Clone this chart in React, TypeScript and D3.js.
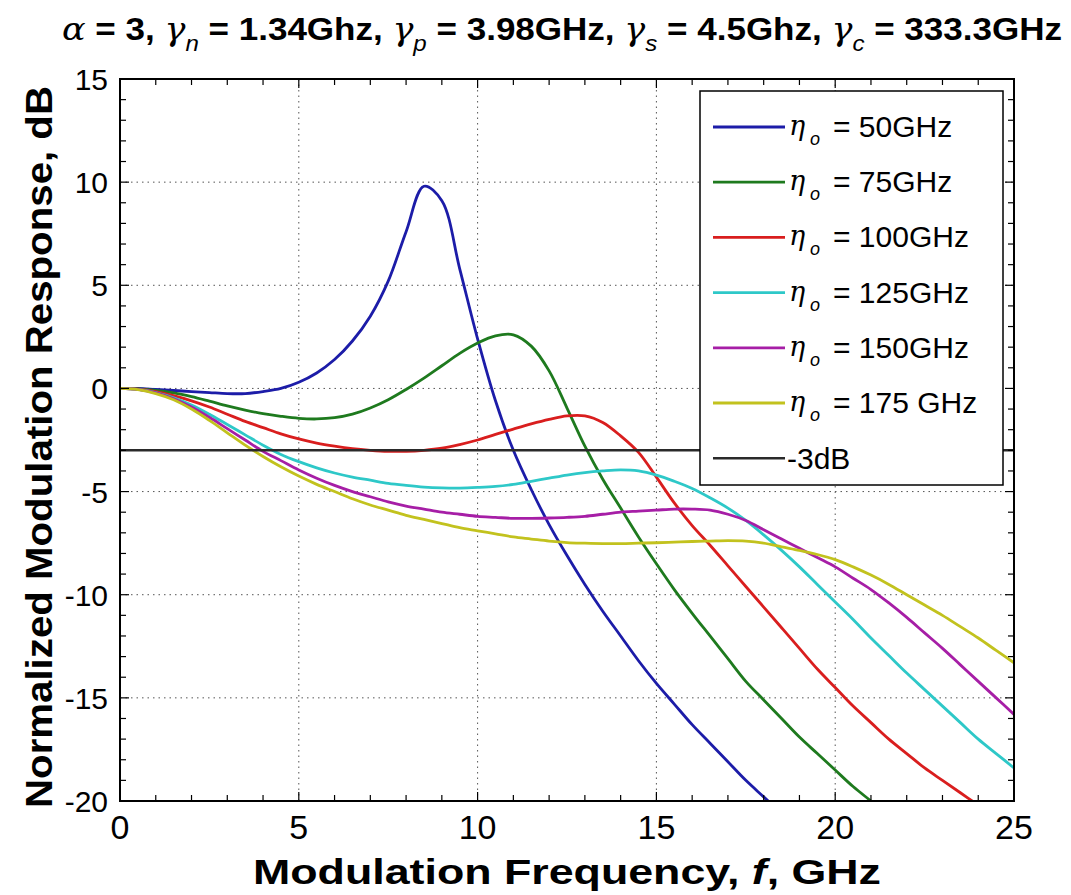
import React from "react";
import * as d3 from "d3";

const freq = [0,0.5,1,1.5,2,2.5,3,3.5,4,4.5,5,5.5,6,6.5,7,7.5,8,8.5,9,9.5,10,10.5,11,11.5,12,12.5,13,13.5,14,14.5,15,15.5,16,16.5,17,17.5,18,18.5,19,19.5,20,20.5,21,21.5,22,22.5,23,23.5,24,24.5,25];

const eta50 = [0,0,-0.05,-0.1,-0.15,-0.2,-0.25,-0.25,-0.15,0,0.3,0.75,1.4,2.3,3.5,5.2,7.6,9.8,9.1,5.8,2.4,-0.6,-3.0,-4.9,-6.6,-8.1,-9.5,-10.8,-12.0,-13.2,-14.3,-15.3,-16.3,-17.2,-18.1,-19.0,-19.8,-20.6,null,null,null,null,null,null,null,null,null,null,null,null,null];
const eta75 = [0,-0.02,-0.1,-0.22,-0.4,-0.62,-0.85,-1.05,-1.22,-1.35,-1.45,-1.48,-1.42,-1.25,-0.95,-0.55,-0.05,0.5,1.1,1.7,2.2,2.55,2.6,2.05,0.85,-0.95,-2.8,-4.4,-5.8,-7.2,-8.5,-9.75,-10.9,-12.0,-13.1,-14.2,-15.1,-16.0,-16.9,-17.7,-18.5,-19.3,-20.0,-20.7,null,null,null,null,null,null,null];
const eta100 = [0,-0.04,-0.15,-0.35,-0.6,-0.9,-1.25,-1.6,-1.9,-2.2,-2.45,-2.65,-2.8,-2.92,-3.0,-3.05,-3.05,-3.0,-2.9,-2.72,-2.5,-2.23,-1.97,-1.72,-1.5,-1.33,-1.33,-1.65,-2.3,-3.1,-4.3,-5.55,-6.65,-7.6,-8.6,-9.6,-10.6,-11.6,-12.6,-13.6,-14.5,-15.4,-16.2,-17.0,-17.7,-18.4,-19.0,-19.6,-20.2,null,null];
const eta125 = [0,-0.05,-0.2,-0.45,-0.8,-1.25,-1.75,-2.25,-2.75,-3.2,-3.55,-3.85,-4.1,-4.3,-4.45,-4.6,-4.7,-4.78,-4.82,-4.83,-4.8,-4.75,-4.65,-4.5,-4.35,-4.2,-4.08,-4.0,-3.95,-4.0,-4.2,-4.5,-4.85,-5.3,-5.8,-6.4,-7.1,-7.85,-8.65,-9.5,-10.35,-11.2,-12.1,-12.95,-13.8,-14.6,-15.4,-16.2,-17.0,-17.7,-18.4];
const eta150 = [0,-0.05,-0.22,-0.5,-0.9,-1.4,-1.95,-2.5,-3.05,-3.5,-3.95,-4.35,-4.7,-5.0,-5.25,-5.5,-5.7,-5.85,-6.0,-6.1,-6.2,-6.25,-6.3,-6.3,-6.28,-6.25,-6.2,-6.1,-6.0,-5.95,-5.9,-5.85,-5.85,-5.9,-6.1,-6.4,-6.85,-7.3,-7.75,-8.2,-8.65,-9.2,-9.75,-10.4,-11.1,-11.85,-12.6,-13.4,-14.2,-15.0,-15.8];
const eta175 = [0,-0.06,-0.25,-0.55,-1.0,-1.55,-2.15,-2.75,-3.3,-3.8,-4.25,-4.65,-5.0,-5.35,-5.65,-5.9,-6.15,-6.35,-6.55,-6.75,-6.9,-7.05,-7.2,-7.3,-7.4,-7.47,-7.5,-7.52,-7.52,-7.5,-7.48,-7.45,-7.42,-7.4,-7.38,-7.4,-7.5,-7.68,-7.85,-8.05,-8.3,-8.65,-9.05,-9.5,-10.0,-10.5,-11.0,-11.55,-12.1,-12.7,-13.3];
const threshold = -3;

const seriesLabels = ["= 50GHz", "= 75GHz", "= 100GHz", "= 125GHz", "= 150GHz", "= 175 GHz"];
const seriesColors = ["#1c1ca8", "#1e7a1e", "#d91e1e", "#2ec8c8", "#a61ea6", "#c2c21e"];
const seriesValues = [eta50, eta75, eta100, eta125, eta150, eta175];
const thresholdLabel = "-3dB";

const xTicks = [0, 5, 10, 15, 20, 25];
const yTicks = [15, 10, 5, 0, -5, -10, -15, -20];

const W = 1071, H = 895;
const L = 120, R = 1014, T = 79, B = 801;
const FONT = "'Liberation Sans', Arial, Helvetica, sans-serif";

export default function App() {
  const x = d3.scaleLinear().domain([0, 25]).range([L, R]);
  const y = d3.scaleLinear().domain([-20, 15]).range([B, T]);
  const line = d3.line<[number, number | null]>()
    .defined(d => d[1] !== null)
    .x(d => x(d[0]))
    .y(d => y(d[1] as number))
    .curve(d3.curveCatmullRom.alpha(0.5));

  const xMinor = d3.range(0, 26, 1);
  const yMinor = d3.range(-20, 16, 1);

  const legX = 700, legY = 91, legW = 303, legH = 394;
  const entryY = (i: number) => 127 + i * 55.2;

  return (
    <svg width={W} height={H} style={{ position: "absolute", left: 0, top: 0, background: "#fff" }} fontFamily={FONT}>
      <defs>
        <clipPath id="plotclip"><rect x={L} y={T} width={R - L} height={B - T} /></clipPath>
      </defs>
      <rect x={0} y={0} width={W} height={H} fill="#fff" />
      {/* title */}
      <text x={62} y={40} fontSize={32} fontWeight="bold" textLength={1000} lengthAdjust="spacingAndGlyphs">
        <tspan fontStyle="italic" fontWeight="normal" fontFamily="'DejaVu Serif', serif">α</tspan>
        <tspan> = 3, </tspan>
        <tspan fontStyle="italic" fontWeight="normal" fontFamily="'DejaVu Serif', serif">γ</tspan>
        <tspan fontStyle="italic" fontWeight="normal" fontSize={22} dy={11}>n</tspan>
        <tspan dy={-11}> = 1.34Ghz, </tspan>
        <tspan fontStyle="italic" fontWeight="normal" fontFamily="'DejaVu Serif', serif">γ</tspan>
        <tspan fontStyle="italic" fontWeight="normal" fontSize={22} dy={11}>p</tspan>
        <tspan dy={-11}> = 3.98GHz, </tspan>
        <tspan fontStyle="italic" fontWeight="normal" fontFamily="'DejaVu Serif', serif">γ</tspan>
        <tspan fontStyle="italic" fontWeight="normal" fontSize={22} dy={11}>s</tspan>
        <tspan dy={-11}> = 4.5Ghz, </tspan>
        <tspan fontStyle="italic" fontWeight="normal" fontFamily="'DejaVu Serif', serif">γ</tspan>
        <tspan fontStyle="italic" fontWeight="normal" fontSize={22} dy={11}>c</tspan>
        <tspan dy={-11}> = 333.3GHz</tspan>
      </text>

      {/* grid */}
      {xTicks.slice(1, -1).map(t => (
        <line key={"gx" + t} x1={x(t)} x2={x(t)} y1={T} y2={B} stroke="#555" strokeWidth={1} strokeDasharray="1.5 4" />
      ))}
      {yTicks.slice(1, -1).map(t => (
        <line key={"gy" + t} x1={L} x2={R} y1={y(t)} y2={y(t)} stroke="#555" strokeWidth={1} strokeDasharray="1.5 4" />
      ))}

      {/* curves */}
      <g clipPath="url(#plotclip)">
        {seriesValues.map((vals, i) => (
          <path key={"s" + i}
            d={line(freq.map((f, j) => [f, vals[j]] as [number, number | null])) || ""}
            fill="none" stroke={seriesColors[i]} strokeWidth={2.8} />
        ))}
        <line x1={x(0)} x2={x(25)} y1={y(threshold)} y2={y(threshold)} stroke="#2a2a2a" strokeWidth={2.4} />
      </g>

      {/* ticks */}
      {xMinor.map(t => {
        const len = t % 5 === 0 ? 9 : 6;
        return (
          <g key={"tx" + t}>
            <line x1={x(t)} x2={x(t)} y1={B} y2={B - len} stroke="#000" strokeWidth={1.2} />
            <line x1={x(t)} x2={x(t)} y1={T} y2={T + len} stroke="#000" strokeWidth={1.2} />
          </g>
        );
      })}
      {yMinor.map(t => {
        const len = t % 5 === 0 ? 9 : 6;
        return (
          <g key={"ty" + t}>
            <line x1={L} x2={L + len} y1={y(t)} y2={y(t)} stroke="#000" strokeWidth={1.2} />
            <line x1={R} x2={R - len} y1={y(t)} y2={y(t)} stroke="#000" strokeWidth={1.2} />
          </g>
        );
      })}
      <rect x={L} y={T} width={R - L} height={B - T} fill="none" stroke="#000" strokeWidth={2} />

      {/* tick labels */}
      {xTicks.map(t => (
        <text key={"lx" + t} x={x(t)} y={839} fontSize={34} textAnchor="middle">{t}</text>
      ))}
      {yTicks.map(t => (
        <text key={"ly" + t} x={108} y={y(t) + 11} fontSize={30} textAnchor="end">{t}</text>
      ))}

      {/* axis titles */}
      <text x={567} y={884} fontSize={35} fontWeight="bold" textAnchor="middle" textLength={628} lengthAdjust="spacingAndGlyphs">
        <tspan>Modulation Frequency, </tspan>
        <tspan fontStyle="italic">f</tspan>
        <tspan>, GHz</tspan>
      </text>
      <text transform={`translate(52,447) rotate(-90)`} fontSize={36} fontWeight="bold" textAnchor="middle" textLength={722} lengthAdjust="spacingAndGlyphs">
        Normalized Modulation Response, dB
      </text>

      {/* legend */}
      <rect x={legX} y={legY} width={legW} height={legH} fill="#fff" stroke="#000" strokeWidth={1.5} />
      {seriesLabels.map((lab, i) => (
        <g key={"lg" + i}>
          <line x1={713} x2={785} y1={entryY(i)} y2={entryY(i)} stroke={seriesColors[i]} strokeWidth={2.8} />
          <text x={789} y={entryY(i) + 8} fontSize={27} fontStyle="italic" fontFamily="'DejaVu Serif', serif">η</text>
          <text x={810} y={entryY(i) + 18} fontSize={18} fontStyle="italic">o</text>
          <text x={833} y={entryY(i) + 10} fontSize={30}>{lab}</text>
        </g>
      ))}
      <line x1={713} x2={785} y1={entryY(6)} y2={entryY(6)} stroke="#2a2a2a" strokeWidth={2.4} />
      <text x={787} y={entryY(6) + 11} fontSize={30}>{thresholdLabel}</text>
    </svg>
  );
}
